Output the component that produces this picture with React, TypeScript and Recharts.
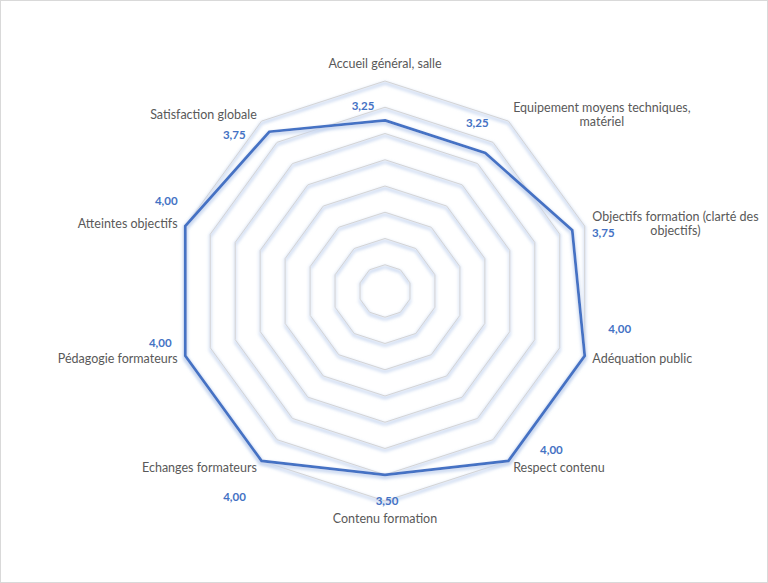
import { RadarChart, Radar, PolarGrid, PolarAngleAxis, PolarRadiusAxis, LabelList } from 'recharts';

// Catégories de l'évaluation, dans le sens horaire depuis le haut
const CATEGORIES = [
  'Accueil général, salle',
  'Equipement moyens techniques, matériel',
  'Objectifs formation (clarté des objectifs)',
  'Adéquation public',
  'Respect contenu',
  'Contenu formation',
  'Echanges formateurs',
  'Pédagogie formateurs',
  'Atteintes objectifs',
  'Satisfaction globale',
];
const SCORES = [3.25, 3.25, 3.75, 4.0, 4.0, 3.5, 4.0, 4.0, 4.0, 3.75];
const RING_TICKS = [0, 0.5, 1, 1.5, 2, 2.5, 3, 3.5, 4];

const data = CATEGORIES.map((name, i) => ({ name, score: SCORES[i] }));

// Décalage (px) des étiquettes de valeur, comme Excel les a posées
const LABEL_NUDGE: [number, number][] = [
  [-22, -15], [-8, -30], [31, 2], [35, -27], [43, -11],
  [2, 26], [-27, 36], [-25, -13], [-19, -26], [-35, 3],
];

const FONT = 'Lato, "Liberation Sans", sans-serif';
const CAT_SIZE = 12.5;
const WRAP_WIDTH = 178;

let ctx: CanvasRenderingContext2D | null = null;
const measure = (s: string) => {
  if (!ctx) ctx = document.createElement('canvas').getContext('2d');
  if (!ctx) return s.length * 6;
  ctx.font = `${CAT_SIZE}px ${FONT}`;
  return ctx.measureText(s).width;
};

const wrap = (s: string): string[] => {
  const words = s.split(' ');
  const lines: string[] = [];
  let cur = '';
  for (const w of words) {
    const next = cur ? `${cur} ${w}` : w;
    if (cur && measure(next) > WRAP_WIDTH) {
      lines.push(cur);
      cur = w;
    } else cur = next;
  }
  if (cur) lines.push(cur);
  return lines;
};

function CategoryTick({ x, y, textAnchor, payload }: any) {
  const lines = wrap(String(payload.value));
  const lh = 14.5;
  let cx = x;
  let cy = y;
  if (textAnchor === 'middle') cy += y < 291 ? -10 : 9;
  // bloc centré sur lui-même, collé au point d'ancrage
  const w = Math.max(...lines.map(measure));
  if (textAnchor === 'start') cx = x + w / 2;
  if (textAnchor === 'end') cx = x - w / 2;
  const top = cy - ((lines.length - 1) * lh) / 2;
  return (
    <text textAnchor="middle" fontFamily={FONT} fontSize={CAT_SIZE} fill="#595959">
      {lines.map((l, i) => (
        <tspan key={i} x={cx} y={top + i * lh} dominantBaseline="central">{l}</tspan>
      ))}
    </text>
  );
}

function ValueLabel({ x, y, value, index }: any) {
  const [dx, dy] = LABEL_NUDGE[index] ?? [0, 0];
  return (
    <text
      x={x + dx}
      y={y + dy}
      textAnchor="middle"
      dominantBaseline="central"
      fontFamily={FONT}
      fontSize={11.5}
      fontWeight={700}
      fill="#4472C4"
    >
      {Number(value).toFixed(2).replace('.', ',')}
    </text>
  );
}

export default function App() {
  return (
    <div style={{ position: 'relative', width: 768, height: 583, background: '#fff' }}>
      <style>{'body{margin:0}'}</style>
      <RadarChart width={768} height={583} data={data} cx={385} cy={291} outerRadius={210}
        margin={{ top: 0, right: 0, bottom: 0, left: 0 }}>
        <defs>
          {/* ombre bleutée façon Excel : copie élargie, floutée, décalée vers le bas */}
          <filter id="excelGlow" x="-10%" y="-10%" width="120%" height="125%">
            <feMorphology in="SourceAlpha" operator="dilate" radius="1" result="fat" />
            <feGaussianBlur in="fat" stdDeviation="1.5" result="blur" />
            <feOffset in="blur" dx="0" dy="1.5" result="off" />
            <feFlood floodColor="#c4d4ef" floodOpacity="0.8" result="tint" />
            <feComposite in="tint" in2="off" operator="in" result="glow" />
            <feMerge>
              <feMergeNode in="glow" />
              <feMergeNode in="SourceGraphic" />
            </feMerge>
          </filter>
        </defs>
        <PolarRadiusAxis type="number" domain={[0, 4]} ticks={RING_TICKS as any} tickCount={9}
          tick={false} axisLine={false} />
        <PolarAngleAxis dataKey="name" tick={<CategoryTick />} tickLine={false} axisLine={false} />
        <PolarGrid gridType="polygon" radialLines={false} stroke="#d4d4d4" strokeWidth={1}
          filter="url(#excelGlow)" />
        <Radar dataKey="score" stroke="#4472C4" strokeWidth={2.75} fill="none"
          filter="url(#excelGlow)" isAnimationActive={false}>
          <LabelList dataKey="score" content={<ValueLabel />} />
        </Radar>
      </RadarChart>
      <div style={{
        position: 'absolute', inset: 0, border: '1px solid #d9d9d9',
        pointerEvents: 'none',
      }} />
    </div>
  );
}
